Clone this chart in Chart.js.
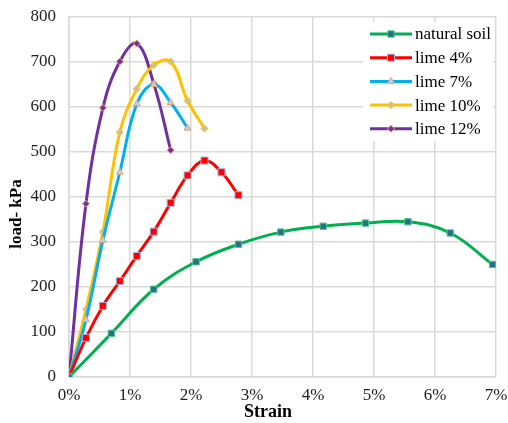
<!DOCTYPE html>
<html>
<head>
<meta charset="utf-8">
<script src="https://cdn.jsdelivr.net/npm/chart.js@4/dist/chart.umd.min.js"></script>
<style>
  html, body { margin: 0; padding: 0; background: #fff; }
  #wrap { width: 508px; height: 423px; }
</style>
</head>
<body>
<div id="wrap"><canvas id="chart"></canvas></div>
<script>
// strain (%) and load (kPa) per mix
const strainSoil = [0, 0.694, 1.389, 2.083, 2.778, 3.472, 4.167, 4.861, 5.556, 6.25, 6.944];
const loadSoil = [0, 97, 195, 256, 295, 322, 335, 342, 345, 320, 250];

const strainLime = [0, 0.278, 0.556, 0.833, 1.111, 1.389, 1.667, 1.944, 2.222, 2.5, 2.778];
const loadLime4 = [0, 87, 158, 213, 269, 323, 387, 448, 481, 455, 404];
const loadLime7 = [0, 127, 304, 455, 607, 650, 610, 553];
const loadLime10 = [0, 150, 322, 544, 640, 693, 701, 614, 552];
const loadLime12 = [0, 385, 598, 701, 741, 652, 504];

const xTicks = [0, 1, 2, 3, 4, 5, 6, 7];
const yTicks = [0, 100, 200, 300, 400, 500, 600, 700, 800];

const serif = '"Liberation Serif", "Times New Roman", serif';

const pts = (xs, ys) => ys.map((y, i) => ({ x: xs[i], y }));

function series(label, xs, ys, color, style, fill, border, radius) {
    return {
        label,
        data: pts(xs, ys),
        borderColor: color,
        backgroundColor: color,
        borderWidth: 3,
        tension: 0.4,
        pointStyle: style,
        pointRadius: radius,
        pointBackgroundColor: fill,
        pointBorderColor: border,
        pointBorderWidth: 1,
        pointHoverRadius: radius
    };
}

const datasets = [
    series('natural soil', strainSoil, loadSoil, '#00B050', 'rect', '#2a6e86', '#4fc98a', 4.5),
    series('lime 4%', strainLime, loadLime4, '#FF0000', 'rect', '#FF0000', '#9fb8e6', 5),
    series('lime 7%', strainLime, loadLime7, '#00B0F0', 'triangle', '#a9d8ef', '#f0a070', 4),
    series('lime 10%', strainLime, loadLime10, '#FFC000', 'rectRot', '#c8c0a0', '#FFC000', 3.5),
    series('lime 12%', strainLime, loadLime12, '#7030A0', 'rectRot', '#7030A0', '#f4a460', 3.5)
];

// legend box inside the plot, with white background
const boxLegend = {
    id: 'boxLegend',
    afterDraw(chart) {
        const ctx = chart.ctx;
        ctx.save();
        ctx.fillStyle = '#fff';
        ctx.fillRect(363, 22, 130, 119);
        chart.data.datasets.forEach((ds, i) => {
            const y = 34 + i * 23.7;
            ctx.strokeStyle = ds.borderColor;
            ctx.lineWidth = 3;
            ctx.beginPath();
            ctx.moveTo(370, y);
            ctx.lineTo(412, y);
            ctx.stroke();
            ctx.fillStyle = ds.pointBackgroundColor;
            ctx.strokeStyle = ds.pointBorderColor;
            ctx.lineWidth = 1;
            Chart.helpers.drawPoint(ctx, { pointStyle: ds.pointStyle, radius: ds.pointRadius, rotation: 0, borderWidth: 1 }, 391, y);
            ctx.fillStyle = '#000';
            ctx.font = '17px ' + serif;
            ctx.textBaseline = 'middle';
            ctx.textAlign = 'left';
            ctx.fillText(ds.label, 415, y + 1);
        });
        // axis titles
        ctx.fillStyle = '#000';
        ctx.font = 'bold 18px ' + serif;
        ctx.textAlign = 'center';
        ctx.textBaseline = 'middle';
        ctx.fillText('Strain', 268, 412);
        ctx.translate(17, 214);
        ctx.rotate(-Math.PI / 2);
        ctx.font = 'bold 17px ' + serif;
        ctx.fillText('load- kPa', 0, 0);
        ctx.restore();
    }
};

// keep tick label overflow from shrinking the plot area
const noOverflow = s => {
    s.paddingTop = 0;
    s.paddingBottom = 0;
    s.paddingLeft = 0;
    s.paddingRight = 0;
};

new Chart(document.getElementById('chart'), {
    type: 'line',
    data: { datasets },
    plugins: [boxLegend],
    options: {
        responsive: true,
        maintainAspectRatio: false,
        animation: false,
        layout: { padding: { top: 17, right: 12, left: 0, bottom: 0 } },
        plugins: { legend: false, tooltip: { enabled: false } },
        scales: {
            x: {
                type: 'linear',
                min: 0,
                max: 7,
                afterFit: s => { s.height = 46; noOverflow(s); },
                afterBuildTicks: s => { s.ticks = xTicks.map(v => ({ value: v })); },
                ticks: {
                    callback: v => v + '%',
                    color: '#222',
                    font: { family: serif, size: 17 },
                    padding: 8,
                    maxRotation: 0
                },
                grid: { color: '#d9d9d9', lineWidth: 1.5, drawTicks: false },
                border: { color: '#d9d9d9', width: 1.5 }
            },
            y: {
                min: 0,
                max: 800,
                afterFit: s => { s.width = 69; noOverflow(s); },
                afterBuildTicks: s => { s.ticks = yTicks.map(v => ({ value: v })); },
                ticks: {
                    color: '#222',
                    font: { family: serif, size: 17 },
                    padding: 13
                },
                grid: { color: '#d9d9d9', lineWidth: 1.5, drawTicks: false },
                border: { color: '#d9d9d9', width: 1.5 }
            }
        }
    }
});
</script>
</body>
</html>
